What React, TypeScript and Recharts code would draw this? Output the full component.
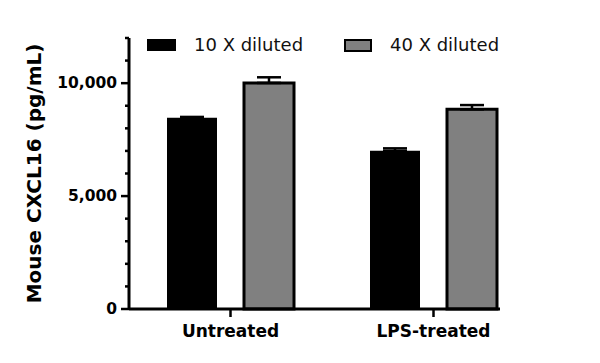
import React from "react";
import { Bar, BarChart, ErrorBar, XAxis, YAxis } from "recharts";

const CATEGORIES = ["Untreated", "LPS-treated"];
const DILUTED_10X = [8465, 7004];
const DILUTED_40X = [10010, 8840];
const ERR_10X = [40, 110];
const ERR_40X = [250, 190];
const Y_TICKS = [0, 1000, 2000, 3000, 4000, 5000, 6000, 7000, 8000, 9000, 10000, 11000, 12000];
const Y_LABELED = [0, 5000, 10000];

const SERIES = [
    { key: "d10", name: "10 X diluted", fill: "#000000" },
    { key: "d40", name: "40 X diluted", fill: "#808080" },
];

const data = CATEGORIES.map((name, i) => ({
    name,
    d10: DILUTED_10X[i],
    d40: DILUTED_40X[i],
    e10: [0, ERR_10X[i]],
    e40: [0, ERR_40X[i]],
}));

const BOLD = "'DejaVu Sans', sans-serif";

const YTick = (props: any) => {
    const { x, y, payload } = props;
    const major = Y_LABELED.includes(payload.value);
    return (
        <g>
            <line x1={x - (major ? 8 : 4)} x2={x} y1={y} y2={y} stroke="#000" strokeWidth={2.5} />
            {major && (
                <text
                    x={x - 12}
                    y={y}
                    textAnchor="end"
                    dominantBaseline="central"
                    fontFamily={BOLD}
                    fontWeight="bold"
                    fontSize={15.5}
                    fill="#000"
                >
                    {payload.value.toLocaleString("en-US")}
                </text>
            )}
        </g>
    );
};

const YLabel = (props: any) => {
    const { viewBox } = props;
    const cx = 34;
    const cy = viewBox.y + viewBox.height / 2;
    return (
        <text
            x={cx}
            y={cy}
            transform={`rotate(-90, ${cx}, ${cy})`}
            textAnchor="middle"
            dominantBaseline="central"
            fontFamily={BOLD}
            fontWeight="bold"
            fontSize={20}
            fill="#000"
        >
            Mouse CXCL16 (pg/mL)
        </text>
    );
};

const LegendOverlay = () => (
    <>
        {SERIES.map((s, i) => (
            <div
                key={s.key}
                style={{
                    position: "absolute",
                    left: i === 0 ? 147 : 344,
                    top: 36,
                    display: "flex",
                    alignItems: "center",
                    fontFamily: "'DejaVu Sans', sans-serif",
                    fontSize: 18,
                    color: "#111",
                    lineHeight: "18px",
                }}
            >
                <span
                    style={{
                        display: "inline-block",
                        width: i === 0 ? 29 : 24,
                        height: i === 0 ? 12 : 9,
                        background: s.fill,
                        border: i === 0 ? "none" : "2.5px solid #000",
                        marginRight: 18,
                    }}
                />
                {s.name}
            </div>
        ))}
    </>
);

export default function App() {
    return (
        <div style={{ position: "absolute", left: 0, top: 0, width: 600, height: 363, background: "#fff" }}>
            <BarChart
                width={600}
                height={363}
                data={data}
                margin={{ top: 38, right: 100, bottom: 0, left: 0 }}
                barSize={50}
                barGap={27}
            >
                <XAxis
                    dataKey="name"
                    height={54}
                    padding={{ left: 0, right: -35 }}
                    axisLine={{ stroke: "#000", strokeWidth: 3 }}
                    tickLine={{ stroke: "#000", strokeWidth: 2.5 }}
                    tickSize={8}
                    tickMargin={8}
                    tick={{ fill: "#000", fontFamily: BOLD, fontWeight: "bold", fontSize: 17 }}
                />
                <YAxis
                    width={129}
                    domain={[0, 12000]}
                    ticks={Y_TICKS}
                    interval={0}
                    axisLine={{ stroke: "#000", strokeWidth: 3 }}
                    tickLine={false}
                    tickSize={0}
                    tickMargin={0}
                    tick={<YTick />}
                    label={<YLabel />}
                />
                <Bar dataKey="d10" name={SERIES[0].name} fill={SERIES[0].fill} isAnimationActive={false}>
                    <ErrorBar dataKey="e10" direction="y" width={12} stroke="#000" strokeWidth={2.5} />
                </Bar>
                <Bar
                    dataKey="d40"
                    name={SERIES[1].name}
                    fill={SERIES[1].fill}
                    stroke="#000"
                    strokeWidth={3}
                    isAnimationActive={false}
                >
                    <ErrorBar dataKey="e40" direction="y" width={12} stroke="#000" strokeWidth={2.5} />
                </Bar>
            </BarChart>
            <LegendOverlay />
        </div>
    );
}
